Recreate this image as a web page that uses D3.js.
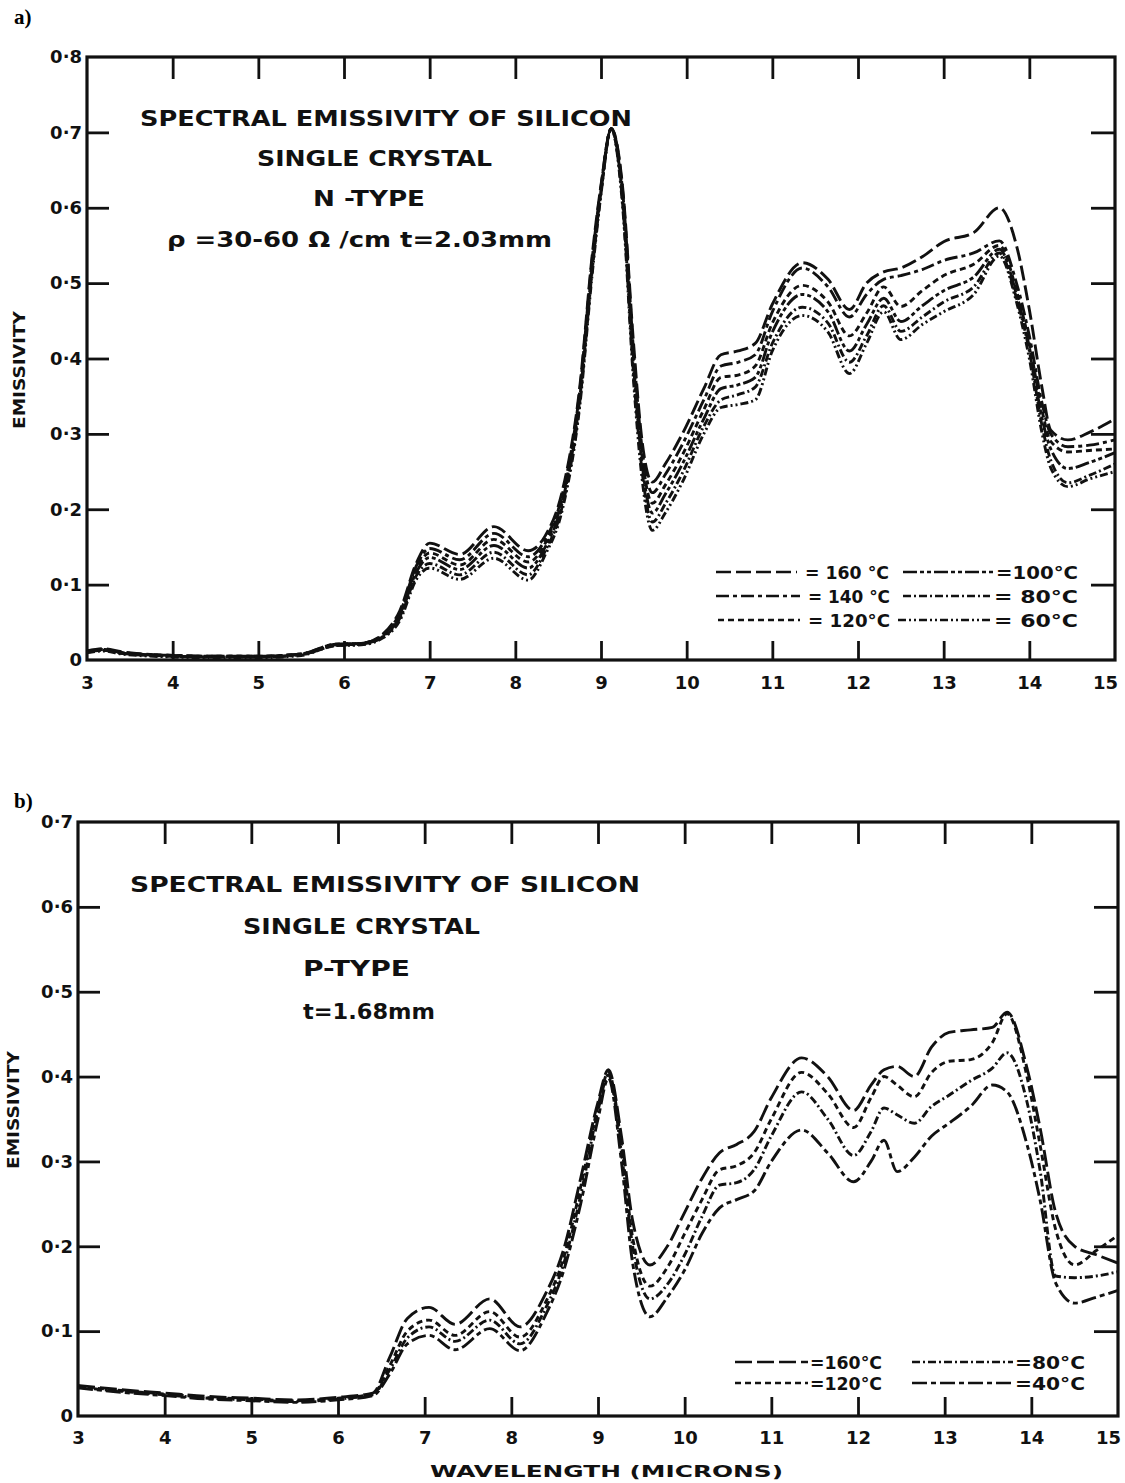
<!DOCTYPE html>
<html>
<head>
<meta charset="utf-8">
<script src="https://cdn.jsdelivr.net/npm/d3@7"></script>
<style>
  html, body { margin: 0; padding: 0; background: #fff; }
  svg { display: block; }
  .lbl { font-family: "DejaVu Sans", sans-serif; font-weight: bold; fill: #111; }
  .panel { font-family: "Liberation Serif", serif; font-weight: bold; fill: #000; }
</style>
</head>
<body>
<svg id="chart" width="1125" height="1483"></svg>
<script>
// ---------- Panel a: N-type silicon, t = 2.03 mm ----------
const wavelengthA = [3.0, 3.2, 3.4, 4.0, 4.5, 5.0, 5.5, 5.9, 6.2, 6.45, 6.65, 6.85, 7.0, 7.35, 7.75, 8.15,
  8.35, 8.55, 8.75, 8.9, 9.0, 9.12, 9.25, 9.38, 9.48, 9.6, 9.75, 9.95, 10.2, 10.4, 10.6, 10.8, 11.0,
  11.35, 11.65, 11.9, 12.1, 12.3, 12.5, 12.75, 13.0, 13.35, 13.65, 13.85, 14.0, 14.15, 14.25, 14.45, 14.7, 15.0];

const nType160 = [0.012, 0.015, 0.011, 0.006, 0.005, 0.005, 0.008, 0.021, 0.022, 0.034, 0.065, 0.13, 0.155, 0.14, 0.177, 0.145,
  0.165, 0.225, 0.36, 0.54, 0.63, 0.705, 0.63, 0.42, 0.29, 0.236, 0.26, 0.30, 0.36, 0.405, 0.41, 0.42, 0.472,
  0.527, 0.505, 0.465, 0.50, 0.515, 0.52, 0.535, 0.555, 0.567, 0.60, 0.55, 0.465, 0.36, 0.305, 0.292, 0.302, 0.32];
const nType140 = [0.012, 0.014, 0.010, 0.006, 0.005, 0.005, 0.008, 0.021, 0.022, 0.033, 0.062, 0.126, 0.148, 0.133, 0.168, 0.137,
  0.16, 0.22, 0.355, 0.535, 0.628, 0.705, 0.625, 0.41, 0.28, 0.222, 0.246, 0.286, 0.345, 0.39, 0.395, 0.405, 0.462,
  0.52, 0.495, 0.455, 0.485, 0.505, 0.51, 0.518, 0.53, 0.54, 0.556, 0.50, 0.43, 0.34, 0.30, 0.283, 0.285, 0.292];
const nType120 = [0.011, 0.014, 0.010, 0.006, 0.005, 0.005, 0.008, 0.020, 0.022, 0.032, 0.060, 0.122, 0.142, 0.126, 0.160, 0.130,
  0.155, 0.215, 0.35, 0.53, 0.625, 0.705, 0.62, 0.40, 0.27, 0.208, 0.232, 0.272, 0.332, 0.375, 0.378, 0.39, 0.447,
  0.497, 0.475, 0.43, 0.46, 0.495, 0.469, 0.49, 0.51, 0.525, 0.55, 0.49, 0.42, 0.33, 0.29, 0.276, 0.278, 0.28];
const nType100 = [0.011, 0.013, 0.009, 0.005, 0.004, 0.004, 0.007, 0.020, 0.021, 0.031, 0.057, 0.118, 0.136, 0.12, 0.152, 0.122,
  0.15, 0.21, 0.345, 0.525, 0.622, 0.705, 0.615, 0.39, 0.26, 0.195, 0.22, 0.26, 0.32, 0.36, 0.365, 0.375, 0.435,
  0.485, 0.462, 0.41, 0.445, 0.48, 0.449, 0.47, 0.49, 0.508, 0.545, 0.485, 0.415, 0.32, 0.28, 0.254, 0.262, 0.275];
const nType80 = [0.010, 0.013, 0.009, 0.005, 0.004, 0.004, 0.007, 0.019, 0.021, 0.030, 0.055, 0.113, 0.128, 0.113, 0.143, 0.113,
  0.145, 0.205, 0.34, 0.52, 0.62, 0.705, 0.61, 0.38, 0.25, 0.183, 0.207, 0.248, 0.31, 0.345, 0.352, 0.362, 0.42,
  0.468, 0.447, 0.395, 0.43, 0.47, 0.436, 0.455, 0.475, 0.495, 0.54, 0.48, 0.41, 0.31, 0.265, 0.235, 0.245, 0.26];
const nType60 = [0.010, 0.012, 0.008, 0.004, 0.003, 0.003, 0.006, 0.019, 0.020, 0.029, 0.052, 0.108, 0.122, 0.107, 0.135, 0.106,
  0.14, 0.20, 0.335, 0.515, 0.618, 0.705, 0.605, 0.37, 0.24, 0.172, 0.195, 0.236, 0.30, 0.335, 0.339, 0.345, 0.41,
  0.457, 0.435, 0.38, 0.42, 0.462, 0.425, 0.445, 0.462, 0.485, 0.536, 0.475, 0.40, 0.30, 0.255, 0.23, 0.24, 0.25];

// ---------- Panel b: P-type silicon, t = 1.68 mm ----------
const wavelengthB = [3.0, 3.5, 4.0, 4.5, 5.0, 5.5, 6.0, 6.4, 6.6, 6.8, 7.05, 7.35, 7.75, 8.1, 8.4, 8.6, 8.8, 9.0,
  9.12, 9.27, 9.4, 9.6, 9.8, 10.0, 10.2, 10.4, 10.6, 10.8, 11.0, 11.35, 11.65, 11.95, 12.15, 12.3, 12.45,
  12.65, 12.85, 13.05, 13.3, 13.55, 13.72, 13.95, 14.1, 14.28, 14.5, 14.75, 15.0];

const pType160 = [0.036, 0.031, 0.027, 0.023, 0.021, 0.019, 0.022, 0.027, 0.07, 0.115, 0.128, 0.108, 0.138, 0.105, 0.145, 0.195, 0.28, 0.37,
  0.408, 0.33, 0.23, 0.178, 0.20, 0.24, 0.28, 0.31, 0.32, 0.335, 0.375, 0.422, 0.40, 0.36, 0.39, 0.408, 0.412,
  0.40, 0.435, 0.452, 0.455, 0.458, 0.476, 0.41, 0.34, 0.24, 0.20, 0.19, 0.18];
const pType120 = [0.035, 0.030, 0.026, 0.022, 0.020, 0.018, 0.021, 0.026, 0.06, 0.10, 0.113, 0.095, 0.123, 0.093, 0.135, 0.185, 0.27, 0.365,
  0.405, 0.32, 0.21, 0.153, 0.175, 0.215, 0.255, 0.29, 0.295, 0.31, 0.35, 0.405, 0.38, 0.34, 0.375, 0.40, 0.39,
  0.376, 0.405, 0.418, 0.42, 0.44, 0.474, 0.40, 0.32, 0.22, 0.178, 0.195, 0.213];
const pType80 = [0.034, 0.029, 0.025, 0.021, 0.019, 0.017, 0.020, 0.025, 0.055, 0.092, 0.105, 0.088, 0.113, 0.085, 0.128, 0.178, 0.26, 0.36,
  0.402, 0.31, 0.20, 0.138, 0.155, 0.19, 0.235, 0.272, 0.275, 0.29, 0.33, 0.382, 0.35, 0.307, 0.335, 0.363, 0.355,
  0.345, 0.365, 0.378, 0.395, 0.41, 0.428, 0.37, 0.29, 0.165, 0.163, 0.165, 0.17];
const pType40 = [0.033, 0.028, 0.024, 0.020, 0.018, 0.016, 0.019, 0.024, 0.05, 0.085, 0.095, 0.078, 0.103, 0.077, 0.12, 0.17, 0.25, 0.35,
  0.398, 0.30, 0.18, 0.117, 0.14, 0.172, 0.215, 0.245, 0.255, 0.265, 0.30, 0.337, 0.31, 0.276, 0.30, 0.325, 0.288,
  0.305, 0.33, 0.345, 0.365, 0.39, 0.382, 0.32, 0.255, 0.157, 0.133, 0.14, 0.148];

// Axis ticks
const xTickLabels = [3, 4, 5, 6, 7, 8, 9, 10, 11, 12, 13, 14, 15];
const yTicksA = [0, 0.1, 0.2, 0.3, 0.4, 0.5, 0.6, 0.7, 0.8];
const yTicksB = [0, 0.1, 0.2, 0.3, 0.4, 0.5, 0.6, 0.7];

// Dash patterns for each temperature trace
const dashA = {"160": "15,5", "140": "13,4,4,4", "120": "6,4", "100": "14,3,4,3,4,3", "80": "8,3,2,3", "60": "8,3,2,3,2,3"};
const dashB = {"160": "17,5", "120": "6,4", "80": "8,3,2,3", "40": "15,4,5,4"};

const svg = d3.select("#chart");
svg.append("rect").attr("width", 1125).attr("height", 1483).attr("fill", "#fff");

function yFmt(d) { return d === 0 ? "0" : "0\u00B7" + Math.round(d * 10); }

function drawPanel(cfg) {
  const x = d3.scaleLinear().domain([3, 15]).range([cfg.left, cfg.right]);
  const y = d3.scaleLinear().domain([0, cfg.ymax]).range([cfg.bottom, cfg.top]);
  const g = svg.append("g");

  // inward ticks on all four sides
  const inner = [4, 5, 6, 7, 8, 9, 10, 11, 12, 13, 14];
  const yInner = cfg.yTicks.filter(v => v > 0 && v < cfg.ymax - 1e-9);
  const tickStyle = sel => { sel.select(".domain").remove(); sel.selectAll("line").attr("stroke", "#111").attr("stroke-width", 2.8); sel.selectAll("text").remove(); };
  g.append("g").attr("transform", `translate(0,${cfg.bottom})`)
    .call(d3.axisBottom(x).tickValues(inner).tickSize(-19)).call(tickStyle);
  g.append("g").attr("transform", `translate(0,${cfg.top})`)
    .call(d3.axisTop(x).tickValues(inner).tickSize(-22)).call(tickStyle);
  g.append("g").attr("transform", `translate(${cfg.left},0)`)
    .call(d3.axisLeft(y).tickValues(yInner).tickSize(-22)).call(tickStyle);
  g.append("g").attr("transform", `translate(${cfg.right},0)`)
    .call(d3.axisRight(y).tickValues(yInner).tickSize(-24)).call(tickStyle);

  // frame
  g.append("rect").attr("x", cfg.left).attr("y", cfg.top)
    .attr("width", cfg.right - cfg.left).attr("height", cfg.bottom - cfg.top)
    .attr("fill", "none").attr("stroke", "#111").attr("stroke-width", 3.2);

  // tick labels
  const xl = g.append("g").attr("transform", `translate(0,${cfg.bottom})`)
    .call(d3.axisBottom(x).tickValues(xTickLabels).tickSize(0).tickPadding(cfg.xPad).tickFormat(d3.format("d")));
  xl.select(".domain").remove();
  xl.selectAll("text").attr("class", "lbl").attr("font-size", 18).attr("fill", "#111")
    .attr("dx", d => d === 15 ? -10 : 0);
  const yl = g.append("g").attr("transform", `translate(${cfg.left},0)`)
    .call(d3.axisLeft(y).tickValues(cfg.yTicks).tickSize(0).tickPadding(cfg.yPad).tickFormat(yFmt));
  yl.select(".domain").remove();
  yl.selectAll("text").attr("class", "lbl").attr("font-size", 18).attr("fill", "#111");

  // traces
  const line = d3.line().x(d => x(d[0])).y(d => y(d[1])).curve(d3.curveMonotoneX);
  cfg.series.forEach(s => {
    const pts = cfg.wl.map((w, i) => [w, s.values[i]]);
    g.append("path").attr("d", line(pts)).attr("fill", "none")
      .attr("stroke", "#111").attr("stroke-width", 2.9)
      .attr("stroke-dasharray", s.dash).attr("stroke-linejoin", "round");
  });

  // legend
  cfg.legend.forEach(it => {
    g.append("line").attr("x1", it.x1).attr("x2", it.x2).attr("y1", it.y).attr("y2", it.y)
      .attr("stroke", "#111").attr("stroke-width", 2.6).attr("stroke-dasharray", it.dash);
    g.append("text").attr("class", "lbl").attr("x", it.tx).attr("y", it.y + 7)
      .attr("font-size", 18).attr("textLength", it.tw).attr("lengthAdjust", "spacingAndGlyphs").text(it.text);
  });

  // title block
  cfg.title.forEach(t => {
    g.append("text").attr("class", "lbl").attr("x", t.x).attr("y", t.y)
      .attr("font-size", 22).attr("textLength", t.w).attr("lengthAdjust", "spacingAndGlyphs").text(t.text);
  });

  // y axis title
  svg.append("text").attr("class", "lbl").attr("font-size", 16)
    .attr("transform", `translate(${cfg.yTitleX},${cfg.yTitleY}) rotate(-90)`)
    .attr("text-anchor", "middle").attr("textLength", 118).attr("lengthAdjust", "spacingAndGlyphs")
    .text("EMISSIVITY");
}

drawPanel({
  left: 87, right: 1115, top: 57, bottom: 660, ymax: 0.8, yTicks: yTicksA,
  xPad: 16, yPad: 5, yTitleX: 25, yTitleY: 370,
  wl: wavelengthA,
  series: [
    {values: nType160, dash: dashA["160"]}, {values: nType140, dash: dashA["140"]},
    {values: nType120, dash: dashA["120"]}, {values: nType100, dash: dashA["100"]},
    {values: nType80, dash: dashA["80"]}, {values: nType60, dash: dashA["60"]}
  ],
  legend: [
    {x1: 716, x2: 797, y: 572, dash: dashA["160"], tx: 805, tw: 84, text: "= 160 \u00B0C"},
    {x1: 716, x2: 800, y: 596, dash: dashA["140"], tx: 808, tw: 82, text: "= 140 \u00B0C"},
    {x1: 718, x2: 800, y: 620, dash: dashA["120"], tx: 808, tw: 82, text: "= 120\u00B0C"},
    {x1: 903, x2: 993, y: 572, dash: dashA["100"], tx: 996, tw: 82, text: "=100\u00B0C"},
    {x1: 903, x2: 990, y: 596, dash: dashA["80"], tx: 994, tw: 84, text: "=  80\u00B0C"},
    {x1: 898, x2: 990, y: 620, dash: dashA["60"], tx: 994, tw: 84, text: "=  60\u00B0C"}
  ],
  title: [
    {x: 140, y: 126, w: 492, text: "SPECTRAL EMISSIVITY OF SILICON"},
    {x: 257, y: 166, w: 235, text: "SINGLE CRYSTAL"},
    {x: 313, y: 206, w: 112, text: "N -TYPE"},
    {x: 167, y: 247, w: 385, text: "\u03C1 =30-60 \u03A9 /cm   t=2.03mm"}
  ]
});

drawPanel({
  left: 78, right: 1118, top: 822, bottom: 1416, ymax: 0.7, yTicks: yTicksB,
  xPad: 15, yPad: 5, yTitleX: 19, yTitleY: 1110,
  wl: wavelengthB,
  series: [
    {values: pType160, dash: dashB["160"]}, {values: pType120, dash: dashB["120"]},
    {values: pType80, dash: dashB["80"]}, {values: pType40, dash: dashB["40"]}
  ],
  legend: [
    {x1: 735, x2: 808, y: 1362, dash: dashB["160"], tx: 810, tw: 72, text: "=160\u00B0C"},
    {x1: 735, x2: 808, y: 1383, dash: dashB["120"], tx: 810, tw: 72, text: "=120\u00B0C"},
    {x1: 912, x2: 1013, y: 1362, dash: dashB["80"], tx: 1015, tw: 70, text: "=80\u00B0C"},
    {x1: 912, x2: 1013, y: 1383, dash: dashB["40"], tx: 1015, tw: 70, text: "=40\u00B0C"}
  ],
  title: [
    {x: 130, y: 892, w: 510, text: "SPECTRAL EMISSIVITY OF SILICON"},
    {x: 243, y: 934, w: 237, text: "SINGLE CRYSTAL"},
    {x: 303, y: 976, w: 107, text: "P-TYPE"},
    {x: 303, y: 1019, w: 132, text: "t=1.68mm"}
  ]
});

// x axis title for the lower panel
svg.append("text").attr("class", "lbl").attr("x", 430).attr("y", 1477)
  .attr("font-size", 16).attr("textLength", 353).attr("lengthAdjust", "spacingAndGlyphs")
  .text("WAVELENGTH  (MICRONS)");

// panel letters
svg.append("text").attr("class", "panel").attr("x", 14).attr("y", 24).attr("font-size", 21).text("a)");
svg.append("text").attr("class", "panel").attr("x", 14).attr("y", 808).attr("font-size", 21).text("b)");
</script>
</body>
</html>
